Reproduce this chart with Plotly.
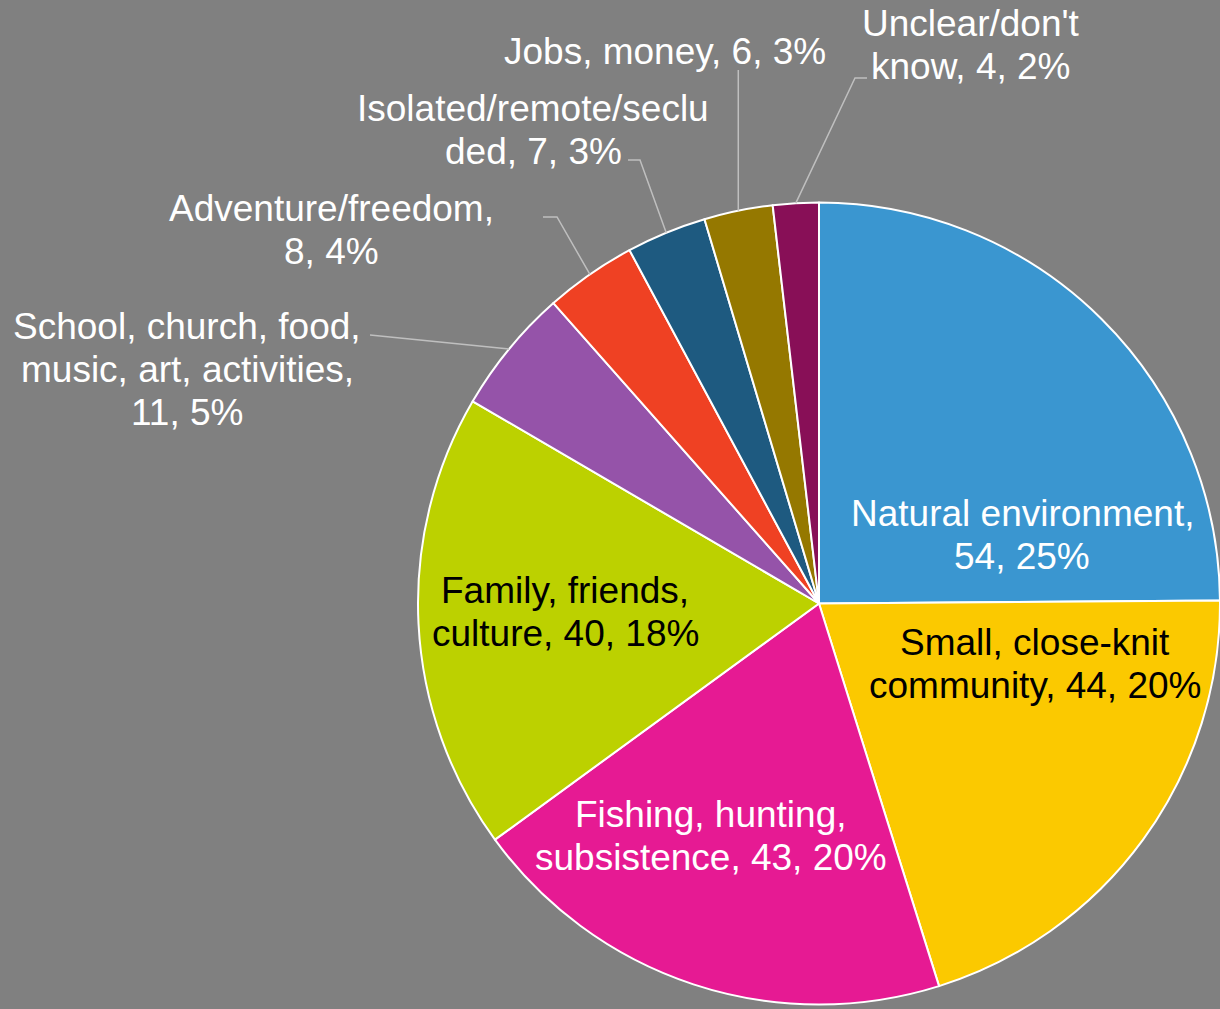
import math
import plotly.graph_objects as go

# Survey answers: what people value about where they live
categories = [
    "Natural environment",
    "Small, close-knit<br>community",
    "Fishing, hunting,<br>subsistence",
    "Family, friends,<br>culture",
    "School, church, food,<br>music, art, activities",
    "Adventure/freedom",
    "Isolated/remote/seclu<br>ded",
    "Jobs, money",
    "Unclear/don't<br>know",
]
counts = [54, 44, 43, 40, 11, 8, 7, 6, 4]
# whether the "count, percent" part starts on a new line
break_before_value = [True, False, False, False, True, True, False, False, False]

slice_colors = ["#3A96D0", "#FBC900", "#E61A93", "#BCD100", "#9553A9",
                "#EF4123", "#1E5A80", "#957800", "#880F57"]
label_colors = ["white", "black", "white", "black", "white",
                "white", "white", "white", "white"]

W, H = 1220, 1009
FONT = "Liberation Sans, Arial, sans-serif"
FONT_SIZE = 37
LINE_GAP = 43  # pixels between label lines

# pie placement (pixels)
dom_left, dom_top = 418, 198
dom_x = [dom_left / W, 1.0]
dom_y = [0.0, 1 - dom_top / H]
cx = (dom_left + W) / 2
cy = (dom_top + H) / 2
radius = min(W - dom_left, H - dom_top) / 2

# label anchor points (pixel centres of each text block)
label_pos = [(1022, 535), (1035, 664), (711, 836), (565, 612), (187, 369),
             (331, 230), (533, 130), (665, 52), (971, 45)]
# leader line bends for outside labels: list of points after the slice edge
leaders = {
    4: [(370, 335)],
    5: [(557, 217), (543, 217)],
    6: [(640, 160), (628, 160)],
    7: [(None, 70)],
    8: [(855, 78), (867, 78)],
}

total = sum(counts)
texts = []
for name, v, brk in zip(categories, counts, break_before_value):
    pct = round(100 * v / total)
    sep = ",<br>" if brk else ", "
    texts.append(f"{name}{sep}{v}, {pct}%")

fig = go.Figure(go.Pie(
    labels=[c.replace("<br>", "") for c in categories],
    values=counts,
    sort=False,
    direction="clockwise",
    rotation=0,
    textinfo="none",
    hoverinfo="label+value+percent",
    marker=dict(colors=slice_colors, line=dict(color="white", width=2)),
    domain=dict(x=dom_x, y=dom_y),
    showlegend=False,
))


def px2paper(x, y):
    return x / W, 1 - y / H


annotations = []
for i, t in enumerate(texts):
    lines = t.split("<br>")
    bx, by = label_pos[i]
    top = by - LINE_GAP * (len(lines) - 1) / 2
    for k, line in enumerate(lines):
        x, y = px2paper(bx, top + k * LINE_GAP)
        annotations.append(dict(
            x=x, y=y, xref="paper", yref="paper", text=line, showarrow=False,
            xanchor="center", yanchor="middle", align="center",
            font=dict(family=FONT, size=FONT_SIZE, color=label_colors[i]),
        ))

shapes = []
cum = 0
for i, v in enumerate(counts):
    mid = (cum + v / 2) / total * 2 * math.pi
    cum += v
    if i not in leaders:
        continue
    sx = cx + radius * math.sin(mid)
    sy = cy - radius * math.cos(mid)
    pts = [(sx, sy)]
    for px, py in leaders[i]:
        pts.append((sx if px is None else px, py))
    path = ""
    for k, (px, py) in enumerate(pts):
        X, Y = px2paper(px, py)
        path += ("M" if k == 0 else " L") + f" {X:.5f},{Y:.5f}"
    shapes.append(dict(type="path", path=path, xref="paper", yref="paper",
                       line=dict(color="#BFBFBF", width=1.5)))

fig.update_layout(
    width=W, height=H,
    margin=dict(l=0, r=0, t=0, b=0),
    paper_bgcolor="#808080",
    plot_bgcolor="#808080",
    annotations=annotations,
    shapes=shapes,
    font=dict(family=FONT),
)

fig.write_html("out.html")
